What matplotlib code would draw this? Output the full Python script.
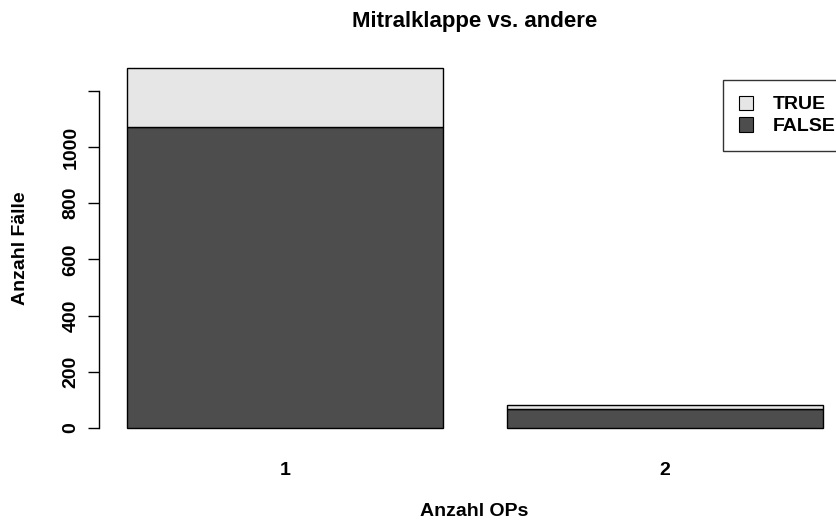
import numpy as np
import matplotlib
matplotlib.use("Agg")
import matplotlib.pyplot as plt
from matplotlib.patches import Patch

plt.rcParams['font.family'] = ['Liberation Sans', 'DejaVu Sans']
plt.rcParams['font.weight'] = 'bold'

# Anzahl OPs pro Fall, gestapelt nach Mitralklappe ja/nein
ops = ["1", "2"]
false_counts = [1071, 66]
true_counts = [210, 16]
colors = {"FALSE": "#4D4D4D", "TRUE": "#E6E6E6"}

fig = plt.figure(figsize=(8.37, 5.22), dpi=100)
ax_box = [0.1185, 0.1525, 0.8982, 0.7445]
ax = fig.add_axes(ax_box)

x = 0.7 + 1.2 * np.arange(len(ops))
false_counts = np.array(false_counts)
true_counts = np.array(true_counts)
ax.bar(x, false_counts, width=1.0, color=colors["FALSE"], edgecolor="black", linewidth=1.0)
ax.bar(x, true_counts, width=1.0, bottom=false_counts, color=colors["TRUE"],
       edgecolor="black", linewidth=1.0)

# R-artige Achsenbereiche (4% Rand)
xl, xr = x[0] - 0.5, x[-1] + 0.5
pad = 0.04 * (xr - xl)
ax.set_xlim(xl - pad, xr + pad)
ymax = (false_counts + true_counts).max()
ax.set_ylim(-0.04 * ymax, 1.04 * ymax)

for s in ["top", "right", "bottom"]:
    ax.spines[s].set_visible(False)
ax.spines["left"].set_bounds(0, 1200)
ax.spines["left"].set_linewidth(1.0)

yt = np.arange(0, 1201, 200)
ax.set_yticks(yt)
ax.set_yticklabels([str(v) if v < 1200 else "" for v in yt], rotation=90,
                   va="center", fontsize=14, fontweight="bold")
ax.tick_params(axis="y", length=8, width=1.0, pad=6)
ax.set_xticks(x)
ax.set_xticklabels(ops, fontsize=14, fontweight="bold")
ax.tick_params(axis="x", length=0, pad=14)

ymid = ax_box[1] + ax_box[3] / 2
fig.text(0.025, ymid, "Anzahl Fälle", rotation=90, va="center", ha="center",
         fontsize=14, fontweight="bold")
fig.text(0.567, 1 - 511 / 522, "Anzahl OPs", va="center", ha="center",
         fontsize=14, fontweight="bold")
fig.text(0.567, 1 - 22 / 522, "Mitralklappe vs. andere", va="center", ha="center",
         fontsize=16, fontweight="bold")

handles = [Patch(facecolor=colors[g], edgecolor="black", linewidth=0.8) for g in ["TRUE", "FALSE"]]
leg = ax.legend(handles, ["TRUE", "FALSE"], loc="upper left",
                bbox_to_anchor=(723 / 837, 1 - 80 / 522), bbox_transform=fig.transFigure,
                frameon=True, fancybox=False, edgecolor="black", borderaxespad=0,
                handlelength=0.75, handleheight=0.75, handletextpad=1.0,
                borderpad=0.8, labelspacing=0.2, prop={"size": 14, "weight": "bold"})
leg.get_frame().set_linewidth(1.0)

fig.savefig("out.png", dpi=100)
